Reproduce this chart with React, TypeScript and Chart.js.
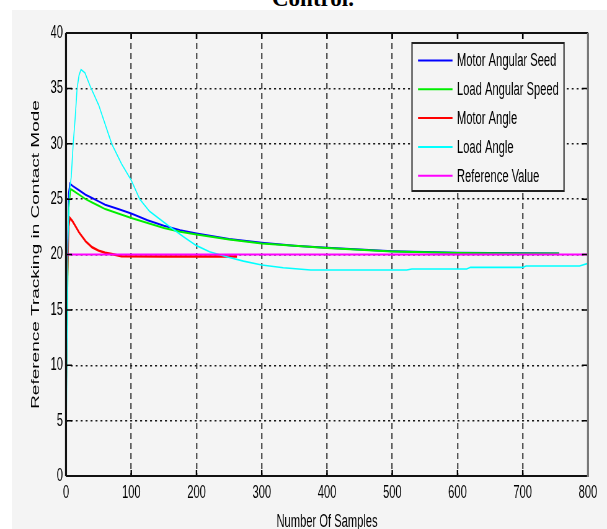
import { useEffect, useRef } from 'react';
import { Chart, registerables } from 'chart.js';

Chart.register(...registerables);

// ---- data (samples / values) ----
const motorSpeedX = [0, 2, 4, 6, 10, 20, 30, 40, 50, 60, 80, 100, 125, 150, 175, 200, 250, 300, 350, 400, 450, 500, 550, 600, 650, 700, 756];
const motorSpeedY = [10.5, 18, 25.5, 26.4, 26.2, 25.8, 25.4, 25.1, 24.8, 24.5, 24.1, 23.7, 23.1, 22.6, 22.2, 21.9, 21.4, 21.05, 20.8, 20.6, 20.45, 20.3, 20.22, 20.15, 20.13, 20.12, 20.1];

const loadSpeedX = [0, 2, 4, 7, 10, 20, 30, 40, 50, 60, 80, 100, 125, 150, 175, 200, 250, 300, 350, 400, 450, 500, 550, 600, 650, 700, 756];
const loadSpeedY = [6.5, 15, 24, 25.9, 25.8, 25.4, 25.0, 24.7, 24.4, 24.1, 23.7, 23.3, 22.85, 22.4, 22.05, 21.8, 21.35, 21.0, 20.78, 20.58, 20.43, 20.28, 20.2, 20.13, 20.11, 20.1, 20.1];

const motorAngleX = [0, 1, 2, 4, 6, 10, 14, 20, 30, 40, 50, 60, 70, 85, 150, 262];
const motorAngleY = [6, 12, 17.5, 22.5, 23.3, 23.0, 22.6, 22.0, 21.2, 20.65, 20.35, 20.15, 20.05, 19.85, 19.82, 19.82];

const loadAngleX = [0, 1, 2, 3, 5, 8, 11, 14, 17, 20, 23, 29, 37, 50, 70, 85, 100, 113, 128, 159, 180, 200, 220, 246, 272, 300, 333, 375, 522, 530, 614, 620, 700, 705, 787, 800];
const loadAngleY = [0, 8, 15, 21, 25.5, 27, 30, 32.3, 35, 36.2, 36.7, 36.4, 35.2, 33.5, 30, 28.2, 26.7, 25.0, 23.9, 22.5, 21.6, 20.8, 20.25, 19.8, 19.4, 19.05, 18.8, 18.6, 18.6, 18.69, 18.69, 18.84, 18.84, 18.96, 18.96, 19.2];

const referenceX = [0, 800];
const referenceY = [20, 20];

const seriesLabels = ['Motor Angular Seed', 'Load Angular Speed', 'Motor Angle', 'Load Angle', 'Reference Value'];
const seriesColors = ['#0000ff', '#00ee00', '#ff0000', '#00ffff', '#ff00ff'];

const xTickStep = 100;
const yTickStep = 5;

// ---- layout (picture is horizontally compressed) ----
const S = 0.62;
const W = 607 / S;
const H = 540;
const PL = 66 / S;
const PR = 588 / S;
const PT = 33;
const PB = 476;

const toPts = (xs: number[], ys: number[]) => xs.map((x, i) => ({ x, y: ys[i] }));

export default function App() {
  const ref = useRef<HTMLCanvasElement | null>(null);

  useEffect(() => {
    const canvas = ref.current;
    if (!canvas) return;
    Chart.defaults.font.family = '"Liberation Sans", Arial, sans-serif';
    Chart.defaults.color = '#000';

    const seriesData = [
      toPts(motorSpeedX, motorSpeedY),
      toPts(loadSpeedX, loadSpeedY),
      toPts(motorAngleX, motorAngleY),
      toPts(loadAngleX, loadAngleY),
      toPts(referenceX, referenceY),
    ];
    const widths = [2, 2, 2.5, 1.6, 2];
    const orders = [4, 3, 2, 1, 0];

    const boxPlugin = {
      id: 'boxPlugin',
      afterDatasetsDraw(chart: any) {
        const { ctx, chartArea: a, scales } = chart;
        ctx.save();
        ctx.setLineDash([]);
        // tick marks inside
        ctx.strokeStyle = '#000';
        ctx.lineWidth = 1.5;
        for (let v = 0; v <= 40; v += yTickStep) {
          const y = scales.y.getPixelForValue(v);
          ctx.beginPath();
          ctx.moveTo(a.left, y);
          ctx.lineTo(a.left + 6 / S, y);
          ctx.moveTo(a.right, y);
          ctx.lineTo(a.right - 6 / S, y);
          ctx.stroke();
        }
        ctx.lineWidth = 2.4;
        for (let v = 0; v <= 800; v += xTickStep) {
          const x = scales.x.getPixelForValue(v);
          ctx.beginPath();
          ctx.moveTo(x, a.bottom);
          ctx.lineTo(x, a.bottom - 6);
          ctx.moveTo(x, a.top);
          ctx.lineTo(x, a.top + 6);
          ctx.stroke();
        }
        // box
        ctx.lineWidth = 2;
        ctx.strokeStyle = '#111';
        ctx.beginPath();
        ctx.moveTo(a.left, a.top);
        ctx.lineTo(a.right, a.top);
        ctx.moveTo(a.left, a.bottom);
        ctx.lineTo(a.right, a.bottom);
        ctx.stroke();
        ctx.lineWidth = 3.2;
        ctx.beginPath();
        ctx.moveTo(a.left, a.top);
        ctx.lineTo(a.left, a.bottom);
        ctx.stroke();
        ctx.strokeStyle = '#777';
        ctx.beginPath();
        ctx.moveTo(a.right, a.top);
        ctx.lineTo(a.right, a.bottom + 1);
        ctx.stroke();

        // legend
        const lx1 = 412 / S, lx2 = 564 / S, ly1 = 43, ly2 = 191;
        ctx.fillStyle = '#f4f4f4';
        ctx.fillRect(lx1, ly1, lx2 - lx1, ly2 - ly1);
        ctx.strokeStyle = '#222';
        ctx.lineWidth = 2;
        ctx.strokeRect(lx1, ly1, lx2 - lx1, ly2 - ly1);
        ctx.font = '18px "Liberation Sans", Arial, sans-serif';
        ctx.textBaseline = 'middle';
        ctx.textAlign = 'left';
        seriesLabels.forEach((lab, i) => {
          const y = 60.5 + i * 28.8;
          ctx.strokeStyle = seriesColors[i];
          ctx.lineWidth = 2;
          ctx.beginPath();
          ctx.moveTo(418 / S, y);
          ctx.lineTo(452.5 / S, y);
          ctx.stroke();
          ctx.fillStyle = '#000';
          ctx.fillText(lab, 457 / S, y + 1);
        });
        ctx.restore();
      },
    };

    const chart = new Chart(canvas, {
      type: 'scatter',
      data: {
        datasets: seriesData.map((d, i) => ({
          label: seriesLabels[i],
          data: d,
          showLine: true,
          borderColor: seriesColors[i],
          backgroundColor: seriesColors[i],
          borderWidth: widths[i],
          pointRadius: 0,
          pointHoverRadius: 0,
          tension: 0,
          order: orders[i],
        })),
      },
      options: {
        responsive: false,
        animation: false,
        devicePixelRatio: 1,
        layout: { padding: { left: 0, top: PT, right: W - PR, bottom: 0 } },
        plugins: { legend: { display: false }, tooltip: { enabled: false }, title: { display: false } },
        scales: {
          x: {
            type: 'linear',
            min: 0,
            max: 800,
            ticks: { stepSize: xTickStep, font: { size: 18 }, padding: 6, maxRotation: 0, color: '#000' },
            grid: { color: '#555', lineWidth: 2.4, drawTicks: false },
            border: { display: false, dash: [6, 4] },
            title: { display: true, text: 'Number Of Samples', font: { size: 18 }, color: '#000', padding: { top: 0, bottom: 7.2 } },
            afterFit: (s: any) => { s.height = H - PB; },
          },
          y: {
            min: 0,
            max: 40,
            ticks: { stepSize: yTickStep, font: { size: 18 }, padding: 5, color: '#000' },
            grid: { color: '#1a1a1a', lineWidth: 1.5, drawTicks: false },
            border: { display: false, dash: [3.2, 4.8] },
            title: { display: true, text: 'Reference Tracking in Contact Mode', font: { size: 19 }, color: '#000', padding: { top: 46.6, bottom: 0 } },
            afterFit: (s: any) => { s.width = PL; },
          },
        },
      },
      plugins: [boxPlugin],
    } as any);

    return () => chart.destroy();
  }, []);

  return (
    <div style={{ position: 'absolute', left: 0, top: 0, width: 607, height: 529, overflow: 'hidden', background: '#fff' }}>
      <div style={{ position: 'absolute', left: 12, top: 10, width: 595, height: 519, background: '#f4f4f4' }} />
      <div style={{ position: 'absolute', left: 0, top: -13, width: 626, textAlign: 'center', font: 'bold 23px/23px "Liberation Serif", "Times New Roman", serif', color: '#000' }}>
        Control.
      </div>
      <div style={{ position: 'absolute', left: 0, top: 0, width: W, height: H, transform: `scaleX(${S})`, transformOrigin: '0 0' }}>
        <canvas ref={ref} width={Math.round(W)} height={H} style={{ display: 'block', width: Math.round(W), height: H }} />
      </div>
    </div>
  );
}
